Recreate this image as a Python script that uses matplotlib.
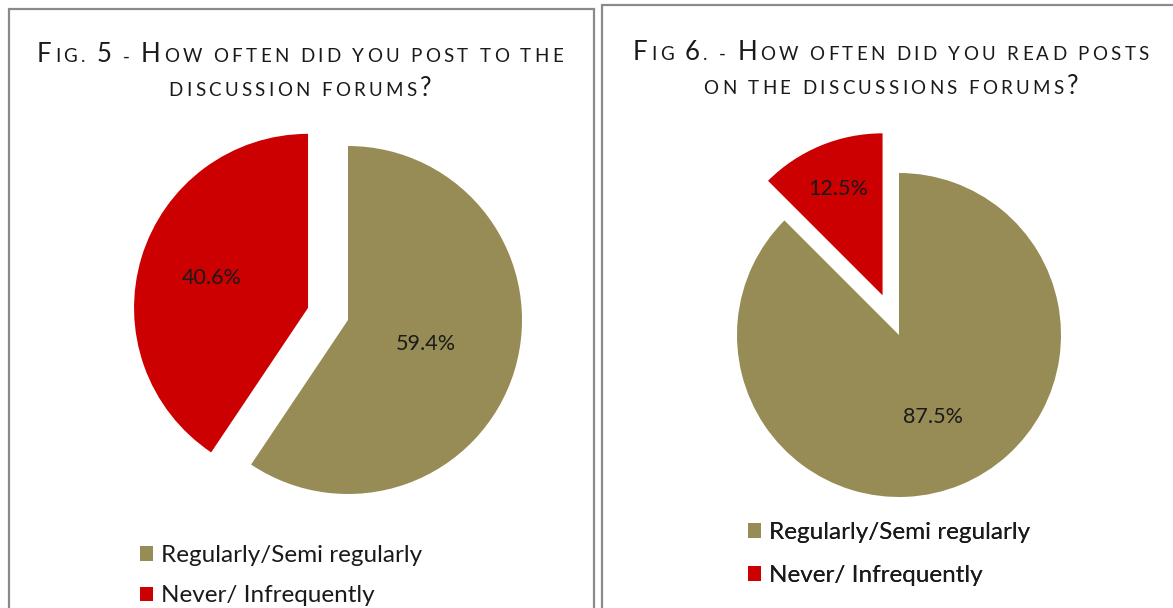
import matplotlib
matplotlib.use("Agg")
import matplotlib.pyplot as plt
from matplotlib.patches import Rectangle
from matplotlib.offsetbox import TextArea, HPacker, AnnotationBbox
import numpy as np

plt.rcParams["font.family"] = ["Lato", "DejaVu Sans"]

# ---------- data ----------
categories = ["Regularly/Semi regularly", "Never/ Infrequently"]
post_pct = [59.4, 40.6]   # Fig. 5
read_pct = [87.5, 12.5]   # Fig. 6
title_post = ["Fig. 5 - How often did you post to the", "discussion forums?"]
title_read = ["Fig 6. - How often did you read posts", "on the discussions forums?"]

colors = ["#978c55", "#cc0000"]
W, H = 1173, 608

fig = plt.figure(figsize=(W / 100, H / 100), dpi=100)
ax = fig.add_axes([0, 0, 1, 1])


def smallcaps(line, big=18.5, small=13.5):
    # one box per character so the letters get a little tracking, like the original
    boxes = []
    for ch in line:
        is_big = ch.isupper() or ch.isdigit() or ch == "?"
        size = big if is_big else small
        boxes.append(TextArea(ch.upper() if ch != " " else "\u00a0",
                              textprops=dict(size=size, color="#1a1a1a",
                                             family=["Lato", "DejaVu Sans"])))
    return HPacker(children=boxes, align="baseline", pad=0, sep=2.4)


def draw_panel(values, center, radius, explode_frac, label_dist, title, title_xy,
               legend_xy, spacing):
    explode = [0, explode_frac * radius]
    wedges, _ = ax.pie(values, colors=colors, startangle=90, counterclock=False,
                       center=center, radius=radius, explode=explode,
                       wedgeprops=dict(linewidth=0))
    for w, v, d in zip(wedges, values, label_dist):
        th = np.deg2rad((w.theta1 + w.theta2) / 2)
        cx, cy = w.center
        ax.text(cx + d * radius * np.cos(th), cy + d * radius * np.sin(th),
                f"{v:.1f}%", ha="center", va="center", fontsize=15.5, color="#1a1a1a")
    for i, line in enumerate(title):
        ab = AnnotationBbox(smallcaps(line), (title_xy[0], title_xy[1] - i * 34),
                            xycoords="data", frameon=False, box_alignment=(0.5, 0.5))
        ax.add_artist(ab)
    leg = ax.legend(wedges, categories, loc="upper left", bbox_to_anchor=legend_xy,
                    bbox_transform=ax.transData, frameon=False, fontsize=17.5,
                    handlelength=0.55, handleheight=0.55, handletextpad=0.3,
                    labelspacing=spacing, borderpad=0, borderaxespad=0)
    for t in leg.get_texts():
        t.set_color("#1a1a1a")
    ax.add_artist(leg)


draw_panel(post_pct, (348, H - 320), 174, 0.24, [0.47, 0.58],
           title_post, (300, H - 55), (140, H - 545), 0.8)
draw_panel(read_pct, (899, H - 335), 162, 0.265, [0.55, 0.71],
           title_read, (891, H - 52), (748, H - 522), 0.9)

# panel frames
ax.add_patch(Rectangle((9, -5), 585, H - 9 + 5, fill=False, edgecolor="#8a8a8a", lw=1.6))
ax.add_patch(Rectangle((602, -5), 580, H - 5 + 5, fill=False, edgecolor="#8a8a8a", lw=1.6))

ax.set_xlim(0, W)
ax.set_ylim(0, H)
ax.set_aspect("auto")
ax.axis("off")

fig.savefig("out.png", dpi=100)
